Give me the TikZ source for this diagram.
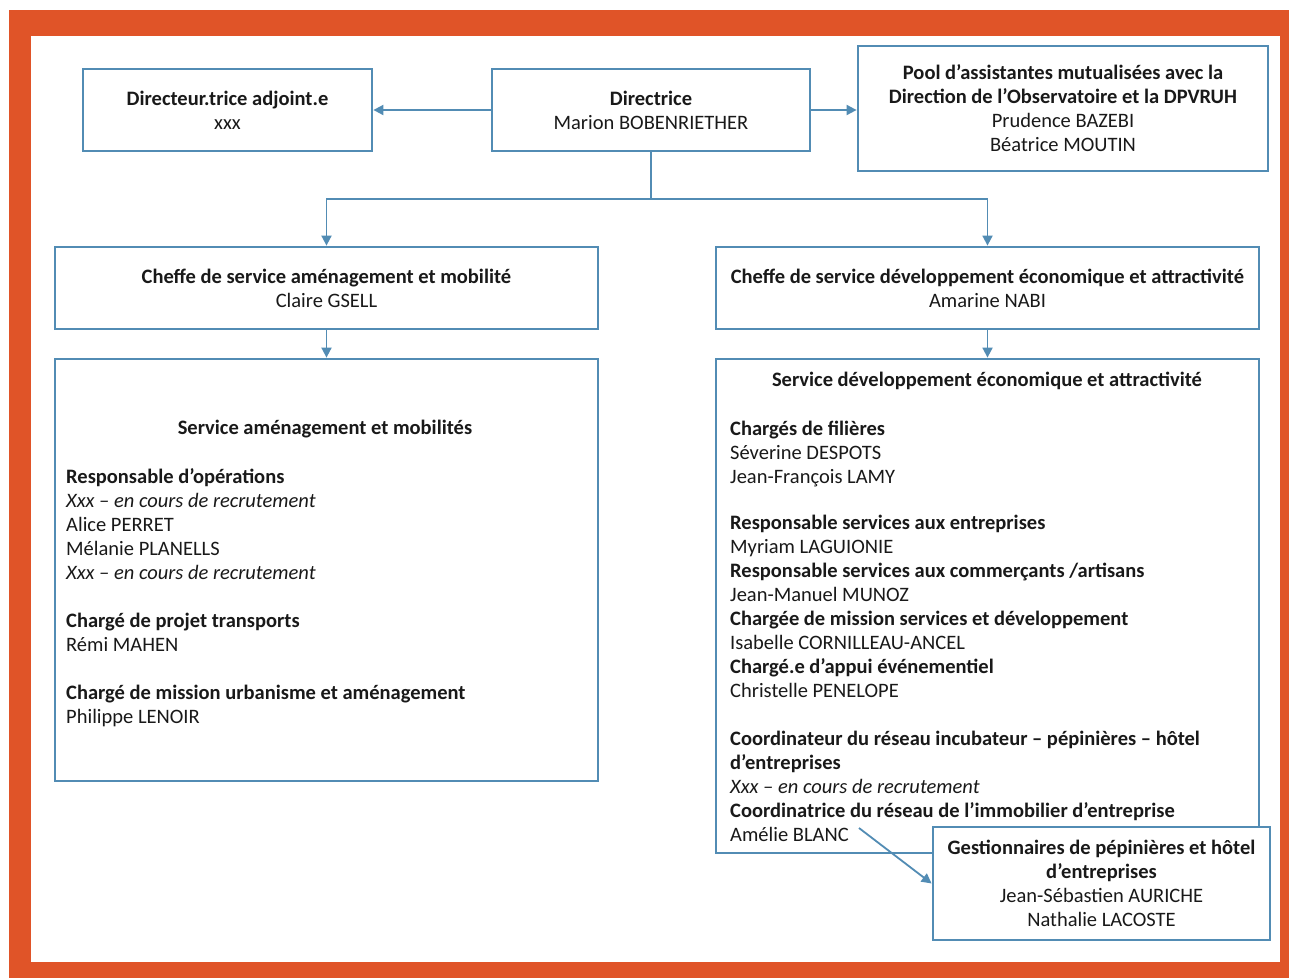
\documentclass[tikz,border=0pt]{standalone}
\usepackage{fontspec}
\setmainfont{Carlito}
\usetikzlibrary{arrows.meta}
\definecolor{cadre}{RGB}{224,84,40}
\definecolor{trait}{RGB}{82,140,180}
\definecolor{texte}{RGB}{25,25,25}

\begin{document}
\begin{tikzpicture}[x=1pt,y=-1pt,
	every node/.style={text=texte,font=\fontsize{20.5}{24}\selectfont},
	boite/.style={draw=trait,line width=2.8pt,fill=white,align=center,inner sep=0pt},
	liste/.style={align=left,anchor=north west,inner sep=0pt},
	lien/.style={draw=trait,line width=1.8pt},
	fleche/.style={lien,-{Triangle[length=10pt,width=10pt]}}]
		% cadre orange
		\fill[white] (0,0) rectangle (1289,978);
		\fill[cadre] (9,10) rectangle (1289,978);
		\fill[white] (31,36) rectangle (1280,962);

		% direction
		\node[boite,minimum width=289pt,minimum height=82pt] (adj) at (227.5,110) {\textbf{Directeur.trice adjoint.e}\\xxx};
		\node[boite,minimum width=318pt,minimum height=82pt] (dir) at (651,110) {\textbf{Directrice}\\Marion BOBENRIETHER};
		\node[boite,minimum width=410pt,minimum height=125pt] (pool) at (1063,108.5) {\textbf{Pool d’assistantes mutualisées avec la}\\\textbf{Direction de l’Observatoire et la DPVRUH}\\Prudence BAZEBI\\Béatrice MOUTIN};
		\draw[fleche] (dir.west) -- (adj.east);
		\draw[fleche] (dir.east) -- (dir.east -| pool.west);

		% chefs de service
		\node[boite,minimum width=543pt,minimum height=82pt] (camen) at (326.5,288) {\textbf{Cheffe de service aménagement et mobilité}\\Claire GSELL};
		\node[boite,minimum width=543pt,minimum height=82pt] (cdev) at (987.5,288) {\textbf{Cheffe de service développement économique et attractivité}\\Amarine NABI};
		\coordinate (bus) at (651,199);
		\draw[lien] (dir.south) -- (bus);
		\draw[fleche] (bus) -| (camen.north);
		\draw[fleche] (bus) -| (cdev.north);

		% service amenagement
		\node[boite,minimum width=543pt,minimum height=422pt] (samen) at (326.5,570) {};
		\node (samen-t) at (325,429) {\textbf{Service aménagement et mobilités}};
		\node[liste] (samen-l) at (66,468) {\textbf{Responsable d’opérations}\\\textit{Xxx – en cours de recrutement}\\Alice PERRET\\Mélanie PLANELLS\\\textit{Xxx – en cours de recrutement}\\[24pt]
			\textbf{Chargé de projet transports}\\Rémi MAHEN\\[24pt]
			\textbf{Chargé de mission urbanisme et aménagement}\\Philippe LENOIR};
		\draw[fleche] (camen.south) -- (samen.north);

		% service developpement
		\node[boite,minimum width=543pt,minimum height=494pt] (sdev) at (987.5,606) {};
		\node (sdev-t) at (987,381) {\textbf{Service développement économique et attractivité}};
		\node[liste] (sdev-l) at (730,421) {\textbf{Chargés de filières}\\Séverine DESPOTS\\Jean-François LAMY\\[22pt]
			\textbf{Responsable services aux entreprises}\\Myriam LAGUIONIE\\\textbf{Responsable services aux commerçants /artisans}\\Jean-Manuel MUNOZ\\
			\textbf{Chargée de mission services et développement}\\Isabelle CORNILLEAU-ANCEL\\\textbf{Chargé.e d’appui événementiel}\\Christelle PENELOPE\\[24pt]
			\textbf{Coordinateur du réseau incubateur – pépinières – hôtel}\\\textbf{d’entreprises}\\\textit{Xxx – en cours de recrutement}\\
			\textbf{Coordinatrice du réseau de l’immobilier d’entreprise}\\Amélie BLANC};
		\draw[fleche] (cdev.south) -- (sdev.north);

		% gestionnaires
		\node[boite,minimum width=337pt,minimum height=113pt] (gest) at (1101.5,883.5) {\textbf{Gestionnaires de pépinières et hôtel}\\\textbf{d’entreprises}\\Jean-Sébastien AURICHE\\Nathalie LACOSTE};
		\coordinate (blanc) at (859,828);
		\draw[fleche] (blanc) -- (gest.west);
	\end{tikzpicture}
\end{document}
